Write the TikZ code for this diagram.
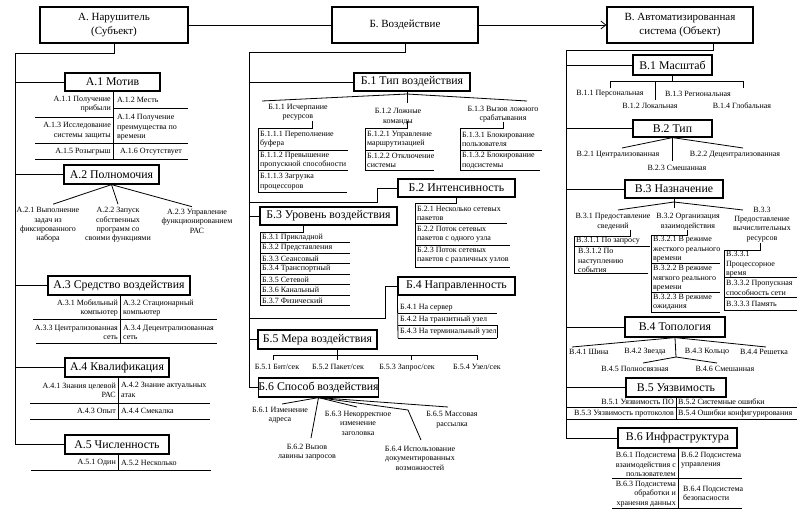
\documentclass[tikz,border=0pt]{standalone}
\usepackage{fontspec}
\setmainfont{Liberation Serif}
\usetikzlibrary{arrows.meta}
\begin{document}
\begin{tikzpicture}[
  x=1pt, y=-1pt,
  ln/.style={line width=0.8pt},
  topbox/.style={draw, line width=1.2pt, align=center, font=\fontsize{11}{14}\selectfont, inner sep=0pt},
  cat/.style={draw, line width=1.2pt, font=\fontsize{11.8}{13}\selectfont, inner sep=0pt},
  lbl/.style={font=\fontsize{8}{9.4}\selectfont, inner sep=0pt},
  lblL/.style={lbl, align=left, anchor=west},
  lblR/.style={lbl, align=right, anchor=east},
  lblC/.style={lbl, align=center},
]
\fill[white] (0,0) rectangle (800,519);
\useasboundingbox (0,0) rectangle (800,519);

% ---------- top ----------
\node[topbox, minimum width=148pt, minimum height=36pt] (A) at (114,25) {А. Нарушитель\\(Субъект)};
\node[topbox, minimum width=146pt, minimum height=36pt] (B) at (405,25) {Б. Воздействие};
\node[topbox, minimum width=146pt, minimum height=36pt] (V) at (680,25) {В. Автоматизированная\\система (Объект)};
\draw[ln] (A.east) -- (B.west);
\draw[ln,-{Straight Barb[length=5pt,width=8pt]}] (B.east) -- (V.west);

% ---------- left column ----------
\node[cat, minimum width=95pt, minimum height=18pt] (A1) at (112.5,82) {А.1 Мотив};
\node[cat, minimum width=95pt, minimum height=19pt] (A2) at (111.5,174.5) {А.2 Полномочия};
\node[cat, minimum width=142pt, minimum height=19pt] (A3) at (119,285.5) {А.3 Средство воздействия};
\node[cat, minimum width=104pt, minimum height=19pt] (A4) at (117,367.5) {А.4 Квалификация};
\node[cat, minimum width=104pt, minimum height=19pt] (A5) at (117,444.5) {А.5 Численность};
\coordinate (LA) at (15,53);
\draw[ln] (A.south) |- (LA) |- (A5.west);
\foreach \n in {A1,A2,A3,A4} \draw[ln] (LA |- \n.west) -- (\n.west);

% A.1 table
\draw[ln] (113,91) -- (113,159);
\draw[ln] (113,108) -- (188,108);
\draw[ln] (35,117) -- (113,117);
\draw[ln] (35,143) -- (188,143);
\draw[ln] (35,159) -- (188,159);
\node[lblR] (a11) at (111,104.5) {А.1.1 Получение\\прибыли};
\node[lblL] (a12) at (117,100) {А.1.2 Месть};
\node[lblR] (a13) at (111,130.5) {А.1.3 Исследование\\системы защиты};
\node[lblL] (a14) at (117,127.5) {А.1.4 Получение\\преимущества по\\времени};
\node[lblR] (a15) at (111,152) {А.1.5 Розыгрыш};
\node[lblL] (a16) at (120,152) {А.1.6 Отсутствует};

% A.2 fan
\node[lblC] (a21) at (48,225) {А.2.1 Выполнение\\задач из\\фиксированного\\набора};
\node[lblC] (a22) at (118,225) {А.2.2 Запуск\\собственных\\программ со\\своими функциями};
\node[lblC] (a23) at (197,221) {А.2.3 Управление\\функционированием\\РАС};
\draw[ln] (A2.south) -- ([xshift=5pt,yshift=3pt]a21.north);
\draw[ln] (A2.south) -- ([yshift=3pt]a22.north);
\draw[ln] (A2.south) -- ([xshift=-5pt,yshift=2pt]a23.north);

% A.3 table
\draw[ln] (120,295) -- (120,343);
\draw[ln] (33,319) -- (217,319);
\draw[ln] (36,343) -- (217,343);
\node[lblR] (a31) at (118,308) {А.3.1 Мобильный\\компьютер};
\node[lblL] (a32) at (123,308) {А.3.2 Стационарный\\компьютер};
\node[lblR] (a33) at (118,332.5) {А.3.3 Централизованная\\сеть};
\node[lblL] (a34) at (123,332.5) {А.3.4 Децентрализованная\\сеть};

% A.4 table
\draw[ln] (118,377) -- (118,419);
\draw[ln] (30,403) -- (210,403);
\draw[ln] (30,419) -- (210,419);
\node[lblR] (a41) at (116,390) {А.4.1 Знания целевой\\РАС};
\node[lblL] (a42) at (121,390) {А.4.2 Знание актуальных\\атак};
\node[lblR] (a43) at (116,411) {А.4.3 Опыт};
\node[lblL] (a44) at (121,411) {А.4.4 Смекалка};

% A.5 table
\draw[ln] (118,454) -- (118,470);
\draw[ln] (31,470) -- (211,470);
\node[lblR] (a51) at (116,463) {А.5.1 Один};
\node[lblL] (a52) at (121,463) {А.5.2 Несколько};

% ---------- middle column ----------
\node[cat, minimum width=116pt, minimum height=18pt] (B1) at (412,82) {Б.1 Тип воздействия};
\node[cat, minimum width=117pt, minimum height=18pt] (B2) at (456.5,188) {Б.2 Интенсивность};
\node[cat, minimum width=137pt, minimum height=18pt] (B3) at (328.5,216) {Б.3 Уровень воздействия};
\node[cat, minimum width=117pt, minimum height=18pt] (B4) at (456.5,286) {Б.4 Направленность};
\node[cat, minimum width=119pt, minimum height=19pt] (B5) at (317.5,339.5) {Б.5 Мера воздействия};
\node[cat, minimum width=119pt, minimum height=19pt] (B6) at (318.5,387.5) {Б.6 Способ воздействия};
\coordinate (MB) at (249,52);
\draw[ln] (B.south) |- (MB) |- (B6.west);
\foreach \n in {B1,B3,B5} \draw[ln] (MB |- \n.west) -- (\n.west);
\coordinate (b2k) at (377,202);
\draw[ln] (MB |- b2k) -- (b2k) |- (B2.west);
\coordinate (b4k) at (385,318);
\draw[ln] (MB |- b4k) -- (b4k) |- (B4.west);

% B.1 fan
\coordinate (b1o) at (407,94);
\draw[ln] (262,101) -- (b1o) -- (527,101);
\draw[ln] (407,91) -- (407,103);
\node[lblC] (b11) at (298,112.5) {Б.1.1 Исчерпание\\ресурсов};
\node[lblC] (b12) at (398,116.5) {Б.1.2 Ложные\\команды};
\node[lblC] (b13) at (503,114.5) {Б.1.3 Вызов ложного\\срабатывания};

% B.1.1 list
\draw[ln] (312,121) |- (258,128) -- (258,192);
\draw[ln] (258,150) -- (348,150);
\draw[ln] (258,170) -- (348,170);
\draw[ln] (258,192) -- (347,192);
\node[lblL] (b111) at (260,139.5) {Б.1.1.1 Переполнение\\буфера};
\node[lblL] (b112) at (260,160) {Б.1.1.2 Превышение\\пропускной способности};
\node[lblL] (b113) at (260,181.5) {Б.1.1.3 Загрузка\\процессоров};

% B.1.2 list
\draw[ln] (407,121) |- (365,128) -- (365,170);
\draw[ln] (365,150) -- (434,150);
\draw[ln] (365,170) -- (434,170);
\node[lblL] (b121) at (367,139.5) {Б.1.2.1 Управление\\маршрутизацией};
\node[lblL] (b122) at (367,160.5) {Б.1.2.2 Отключение\\системы};

% B.1.3 list
\draw[ln] (503,122) |- (460,128) -- (460,170);
\draw[ln] (460,150) -- (542,150);
\draw[ln] (460,170) -- (540,170);
\node[lblL] (b131) at (462,139.5) {Б.1.3.1 Блокирование\\пользователя};
\node[lblL] (b132) at (462,160.5) {Б.1.3.2 Блокирование\\подсистемы};

% B.2 list
\draw[ln] (B2.south) |- (415,203) -- (415,267);
\draw[ln] (415,223) -- (507,223);
\draw[ln] (415,245) -- (510,245);
\draw[ln] (415,267) -- (510,267);
\node[lblL] (b21) at (417,213.5) {Б.2.1 Несколько сетевых\\пакетов};
\node[lblL] (b22) at (417,234.5) {Б.2.2 Поток сетевых\\пакетов с одного узла};
\node[lblL] (b23) at (417,255.5) {Б.2.3 Поток сетевых\\пакетов с различных узлов};

% B.3 list
\draw[ln] (303,225) |- (260,232) -- (260,305.5);
\foreach \y in {242.5,253,263.5,274,284.5,295,305.5} \draw[ln] (260,\y) -- (350,\y);
\node[lblL] (b31) at (262,237.5) {Б.3.1 Прикладной};
\node[lblL] (b32) at (262,248) {Б.3.2 Представления};
\node[lblL] (b33) at (262,258.5) {Б.3.3 Сеансовый};
\node[lblL] (b34) at (262,269) {Б.3.4 Транспортный};
\node[lblL] (b35) at (262,279.5) {Б.3.5 Сетевой};
\node[lblL] (b36) at (262,290) {Б.3.6 Канальный};
\node[lblL] (b37) at (262,300.5) {Б.3.7 Физический};

% B.4 list
\draw[ln] (B4.south west) -- (398,338);
\draw[ln] (398,313) -- (497,313);
\draw[ln] (398,325) -- (497,325) -- (497,338);
\draw[ln] (398,338) -- (497,338);
\node[lblL] (b41) at (400,307.5) {Б.4.1 На сервер};
\node[lblL] (b42) at (400,319.5) {Б.4.2 На транзитный узел};
\node[lblL] (b43) at (400,331.5) {Б.4.3 На терминальный узел};

% B.5
\draw[ln] (273,355) -- (477,355);
\foreach \x in {273,411,477} \draw[ln] (\x,355) -- (\x,360);
\draw[ln] (337,349) -- (337,360);
\node[lblC] (b51) at (277,367) {Б.5.1 Бит/сек};
\node[lblC] (b52) at (338,367) {Б.5.2 Пакет/сек};
\node[lblC] (b53) at (407,368) {Б.5.3 Запрос/сек};
\node[lblC] (b54) at (477,367) {Б.5.4 Узел/сек};

% B.6 fan
\node[lblC] (b61) at (280,415) {Б.6.1 Изменение\\адреса};
\node[lblC] (b62) at (307,452) {Б.6.2 Вызов\\лавины запросов};
\node[lblC] (b63) at (358,423) {Б.6.3 Некорректное\\изменение\\заголовка};
\node[lblC] (b64) at (420,458) {Б.6.4 Использование\\документированных\\возможностей};
\node[lblC] (b65) at (452,419.5) {Б.6.5 Массовая\\рассылка};
\draw[ln] (B6.south) -- (282,404);
\draw[ln] (B6.south) -- (311,438);
\draw[ln] (B6.south) -- (357,407);
\draw[ln] (B6.south) -- (408,410) -- (421,440);
\draw[ln] (B6.south) -- (448,407);

% ---------- right column ----------
\node[cat, minimum width=79pt, minimum height=20pt] (V1) at (672.5,65) {В.1 Масштаб};
\node[cat, minimum width=79pt, minimum height=17pt] (V2) at (672.5,128.5) {В.2 Тип};
\node[cat, minimum width=98pt, minimum height=18pt] (V3) at (674,189) {В.3 Назначение};
\node[cat, minimum width=100pt, minimum height=20pt] (V4) at (675,327) {В.4 Топология};
\node[cat, minimum width=100pt, minimum height=19pt] (V5) at (676,387.5) {В.5 Уязвимость};
\node[cat, minimum width=119pt, minimum height=20pt] (V6) at (677.5,438) {В.6 Инфраструктура};
\coordinate (RB) at (566,50);
\draw[ln] ([xshift=33pt]V.south) |- (RB) |- (V6.west);
\foreach \n in {V1,V2,V3,V4,V5} \draw[ln] (RB |- \n.west) -- (\n.west);

% V.1
\draw[ln] (V1.south) -- (672.5,81);
\draw[ln] (610,88) |- (743,81) -- (743,88);
\draw[ln] (655,81) -- (655,100);
\node[lblC] (v11) at (610,94) {В.1.1 Персональная};
\node[lblC] (v12) at (650,106) {В.1.2 Локальная};
\node[lblC] (v13) at (698,94) {В.1.3 Региональная};
\node[lblC] (v14) at (742,106) {В.1.4 Глобальная};

% V.2
\draw[ln] (622,148) -- (V2.south) -- (743,148);
\draw[ln] (V2.south) -- (672.5,161);
\node[lblC] (v21) at (618,155) {В.2.1 Централизованная};
\node[lblC] (v22) at (735,155) {В.2.2 Децентрализованная};
\node[lblC] (v23) at (677,168) {В.2.3 Смешанная};

% V.3
\coordinate (v3o) at (674,202);
\draw[ln] (618,210) -- (v3o) -- (743,210);
\draw[ln] (V3.south) -- (674,208);
\node[lblC] (v31) at (613,221.5) {В.3.1 Предоставление\\сведений};
\node[lblC] (v32) at (688,221.5) {В.3.2 Организация\\взаимодействия};
\node[lblC] (v33) at (762,224.5) {В.3.3\\Предоставление\\вычислительных\\ресурсов};
% V.3.1 list
\draw[ln] (630,230) |- (574,236) -- (574,273);
\draw[ln] (574,246) -- (650,246);
\draw[ln] (574,273) -- (648,273);
\node[lblL] (v311) at (576,241) {В.3.1.1 По запросу};
\node[lblL] (v312) at (578,260.5) {В.3.1.2 По\\наступлению\\события};
% V.3.2 list
\draw[ln] (687,230) |- (651,235) -- (651,312);
\draw[ln] (651,263) -- (720,263);
\draw[ln] (651,292) -- (720,292);
\draw[ln] (651,312) -- (720,312);
\node[lblL] (v321) at (653,249.5) {В.3.2.1 В режиме\\жесткого реального\\времени};
\node[lblL] (v322) at (653,278.5) {В.3.2.2 В режиме\\мягкого реального\\времени};
\node[lblL] (v323) at (653,302) {В.3.2.3 В режиме\\ожидания};
% V.3.3 list
\draw[ln] (760,243) |- (724,250) -- (724,310);
\draw[ln] (724,277) -- (797,277);
\draw[ln] (724,297) -- (797,297);
\draw[ln] (724,310) -- (797,310);
\node[lblL] (v331) at (726,264.5) {В.3.3.1\\Процессорное\\время};
\node[lblL] (v332) at (726,288) {В.3.3.2 Пропускная\\способность сети};
\node[lblL] (v333) at (726,303.5) {В.3.3.3 Память};

% V.4
\draw[ln] (572,347) -- (V4.south) -- (766,347);
\draw[ln] (V4.south) -- (676,357);
\draw[ln] (643,363) -- (676,357) -- (717,363);
\node[lblC] (v41) at (589,352) {В.4.1 Шина};
\node[lblC] (v42) at (645,352) {В.4.2 Звезда};
\node[lblC] (v43) at (707,352) {В.4.3 Кольцо};
\node[lblC] (v44) at (764,352) {В.4.4 Решетка};
\node[lblC] (v45) at (635,369) {В.4.5 Полносвязная};
\node[lblC] (v46) at (725,369) {В.4.6 Смешанная};

% V.5 table
\draw[ln] (676,397) -- (676,419);
\draw[ln] (567,407) -- (797,407);
\draw[ln] (567,419) -- (797,419);
\node[lblR] (v51) at (674,402) {В.5.1 Уязвимость ПО};
\node[lblL] (v52) at (678,402) {В.5.2 Системные ошибки};
\node[lblR] (v53) at (674,413.5) {В.5.3 Уязвимость протоколов};
\node[lblL] (v54) at (678,413.5) {В.5.4 Ошибки конфигурирования};

% V.6 table
\draw[ln] (678,448) -- (678,508);
\draw[ln] (612,478) -- (742,478);
\draw[ln] (612,508) -- (742,508);
\node[lblR] (v61) at (676,464.5) {В.6.1 Подсистема\\взаимодействия с\\пользователем};
\node[lblL] (v62) at (681,460) {В.6.2 Подсистема\\управления};
\node[lblR] (v63) at (676,494) {В.6.3 Подсистема\\обработки и\\хранения данных};
\node[lblL] (v64) at (683,493.5) {В.6.4 Подсистема\\безопасности};
\end{tikzpicture}
\end{document}
